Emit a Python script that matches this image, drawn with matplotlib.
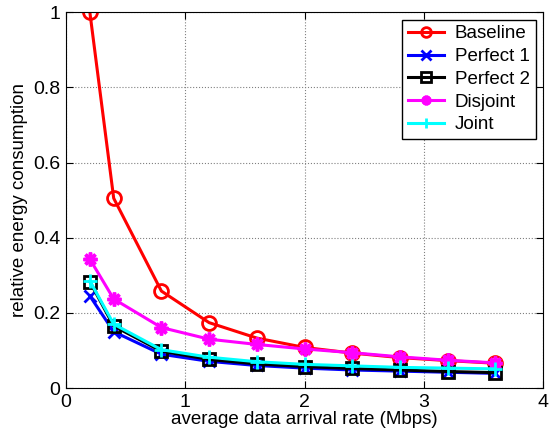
import matplotlib.pyplot as plt

plt.rcParams['font.family'] = ['Liberation Sans', 'DejaVu Sans']

rate = [0.2, 0.4, 0.8, 1.2, 1.6, 2.0, 2.4, 2.8, 3.2, 3.6]
baseline = [1.0, 0.505, 0.258, 0.174, 0.133, 0.108, 0.093, 0.081, 0.073, 0.066]
perfect1 = [0.245, 0.150, 0.090, 0.071, 0.060, 0.053, 0.048, 0.045, 0.042, 0.039]
perfect2 = [0.283, 0.165, 0.098, 0.076, 0.064, 0.057, 0.052, 0.048, 0.044, 0.041]
disjoint = [0.343, 0.237, 0.161, 0.130, 0.116, 0.104, 0.094, 0.083, 0.074, 0.067]
joint = [0.285, 0.170, 0.102, 0.082, 0.070, 0.063, 0.059, 0.055, 0.053, 0.051]

fig = plt.figure(figsize=(5.56, 4.36), dpi=100)
ax = fig.add_axes([0.1187, 0.110, 0.858, 0.862])

lw = 2.2
ax.plot(rate, baseline, color='red', lw=lw, marker='o', ms=10, mfc='none', mew=2, label='Baseline')
ax.plot(rate, perfect1, color='blue', lw=lw, marker='x', ms=8, mew=2, label='Perfect 1')
ax.plot(rate, perfect2, color='black', lw=lw, marker='s', ms=8, mfc='none', mew=2, label='Perfect 2')
ax.plot(rate, disjoint, color='magenta', lw=lw, marker=(8, 2, 0), ms=10, mew=2.5, label='Disjoint')
ax.plot(rate, joint, color='cyan', lw=lw, marker='+', ms=10, mew=2, label='Joint')

ax.set_xlim(0, 4)
ax.set_ylim(0, 1)
ax.set_xticks([0, 1, 2, 3, 4])
ax.set_yticks([0, 0.2, 0.4, 0.6, 0.8, 1.0])
ax.set_yticklabels(['0', '0.2', '0.4', '0.6', '0.8', '1'])
ax.tick_params(direction='in', top=True, right=True, labelsize=14, length=5, pad=4)
ax.grid(True, linestyle=':', color='gray', lw=0.8)
ax.set_xlabel('average data arrival rate (Mbps)', fontsize=13.5, labelpad=0)
ax.set_ylabel('relative energy consumption', fontsize=13.5, labelpad=4)

leg = ax.legend(loc='upper right', fontsize=13.5, fancybox=False, edgecolor='black',
                framealpha=1, handlelength=1.9, borderpad=0.3, labelspacing=0.3,
                handletextpad=0.6, borderaxespad=0.4)
leg.get_frame().set_linewidth(1)
for h in leg.legend_handles:
    h.set_markersize(7)

fig.savefig('out.png', dpi=100)
